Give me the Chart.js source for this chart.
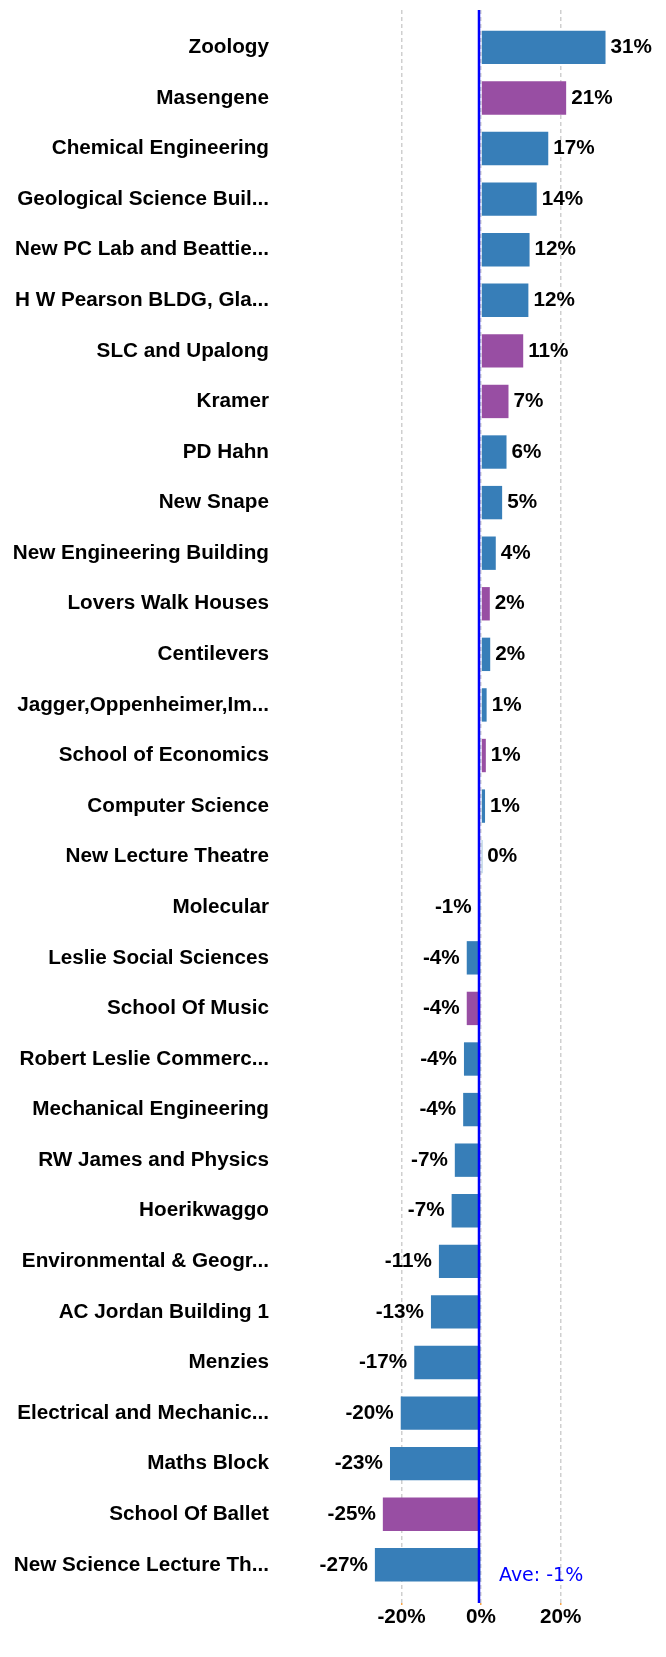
<!DOCTYPE html>
<html>
<head>
<meta charset="utf-8">
<title>Change by building</title>
<script src="https://cdn.jsdelivr.net/npm/chart.js"></script>
<style>
  html, body { margin: 0; padding: 0; background: #fff; }
  #wrap { width: 666px; height: 1657px; }
</style>
</head>
<body>
<div id="wrap"><canvas id="barChart" width="666" height="1657"></canvas></div>
<script>
// buildings, top to bottom
const categories = [
    'Zoology', 'Masengene', 'Chemical Engineering', 'Geological Science Buil...',
    'New PC Lab and Beattie...', 'H W Pearson BLDG, Gla...', 'SLC and Upalong', 'Kramer',
    'PD Hahn', 'New Snape', 'New Engineering Building', 'Lovers Walk Houses',
    'Centilevers', 'Jagger,Oppenheimer,Im...', 'School of Economics', 'Computer Science',
    'New Lecture Theatre', 'Molecular', 'Leslie Social Sciences', 'School Of Music',
    'Robert Leslie Commerc...', 'Mechanical Engineering', 'RW James and Physics', 'Hoerikwaggo',
    'Environmental & Geogr...', 'AC Jordan Building 1', 'Menzies', 'Electrical and Mechanic...',
    'Maths Block', 'School Of Ballet', 'New Science Lecture Th...'
];

// change in %
const values = [
    31.3, 21.4, 16.9, 14.0, 12.2, 11.9, 10.6, 6.9,
    6.4, 5.3, 3.7, 2.2, 2.3, 1.4, 1.2, 1.0,
    0.3, -0.6, -3.6, -3.6, -4.3, -4.5, -6.6, -7.4,
    -10.6, -12.6, -16.8, -20.2, -22.9, -24.7, -26.7
];

// 1 = second (purple) group
const highlighted = [
    0, 1, 0, 0, 0, 0, 1, 1,
    0, 0, 0, 1, 0, 0, 1, 0,
    0, 0, 0, 1, 0, 0, 0, 0,
    0, 0, 0, 0, 0, 1, 0
];

const xTicks = [-20, 0, 20];

const average = values.reduce((a, b) => a + b, 0) / values.length;

Chart.defaults.font.family = '"Liberation Sans", Arial, sans-serif';
Chart.defaults.color = '#000';

// value labels + average line
const annotate = {
    id: 'annotate',
    afterDatasetsDraw: function (chart) {
        const ctx = chart.ctx;
        const area = chart.chartArea;
        const meta = chart.getDatasetMeta(0);
        ctx.save();
        ctx.font = 'bold 20.7px "Liberation Sans", Arial, sans-serif';
        ctx.fillStyle = '#000';
        ctx.textBaseline = 'middle';
        meta.data.forEach(function (bar, i) {
            const txt = Math.round(values[i]) + '%';
            if (values[i] >= 0) {
                ctx.textAlign = 'left';
                ctx.fillText(txt, bar.x + 5, bar.y);
            } else {
                ctx.textAlign = 'right';
                ctx.fillText(txt, bar.x - 7, bar.y);
            }
        });

        const ax = chart.scales.x.getPixelForValue(average);
        ctx.strokeStyle = '#0000ff';
        ctx.lineWidth = 2.5;
        ctx.beginPath();
        ctx.moveTo(ax, area.top);
        ctx.lineTo(ax, area.bottom);
        ctx.stroke();

        ctx.font = '19px "DejaVu Sans", sans-serif';
        ctx.fillStyle = '#0000ff';
        ctx.textAlign = 'left';
        ctx.textBaseline = 'alphabetic';
        ctx.fillText('Ave: ' + Math.round(average) + '%', ax + 20, area.bottom - 22);
        ctx.restore();
    }
};

var barChartCanvas = document.getElementById('barChart').getContext('2d');
new Chart(barChartCanvas, {
    type: 'bar',
    data: {
        datasets: [{
            data: values.map((v, i) => ({ x: v, y: i })),
            backgroundColor: highlighted.map(h => h ? '#984ea3' : '#377eb8'),
            borderWidth: 0,
            categoryPercentage: 0.66,
            barPercentage: 1
        }]
    },
    options: {
        indexAxis: 'y',
        responsive: false,
        animation: false,
        events: [],
        layout: { padding: { top: 10, right: 6, bottom: 0, left: 0 } },
        plugins: {
            legend: { display: false },
            tooltip: { enabled: false }
        },
        scales: {
            x: {
                type: 'linear',
                min: -40,
                max: 45,
                border: { display: false, dash: [4, 3] },
                grid: {
                    color: '#cfcfcf',
                    lineWidth: 1.5,
                    tickLength: 2,
                    tickColor: '#f5a54a'
                },
                afterBuildTicks: function (scale) {
                    scale.ticks = xTicks.map(v => ({ value: v }));
                },
                afterFit: function (scale) {
                    scale.height = 54;
                },
                ticks: {
                    padding: 0,
                    maxRotation: 0,
                    autoSkip: false,
                    font: { size: 20.7, weight: 'bold' },
                    callback: function (value) {
                        return value + '%';
                    }
                }
            },
            y: {
                type: 'linear',
                reverse: true,
                offset: false,
                min: -0.739,
                max: 30.755,
                border: { display: false },
                grid: { display: false, drawTicks: false, offset: false },
                afterBuildTicks: function (scale) {
                    scale.ticks = categories.map((c, i) => ({ value: i }));
                },
                afterFit: function (scale) {
                    scale.width = 322;
                    scale.paddingTop = 0;
                    scale.paddingBottom = 0;
                },
                ticks: {
                    padding: 53,
                    autoSkip: false,
                    font: { size: 20.7, weight: 'bold' },
                    callback: function (value) {
                        return categories[value];
                    }
                }
            }
        }
    },
    plugins: [annotate]
});
</script>
</body>
</html>
